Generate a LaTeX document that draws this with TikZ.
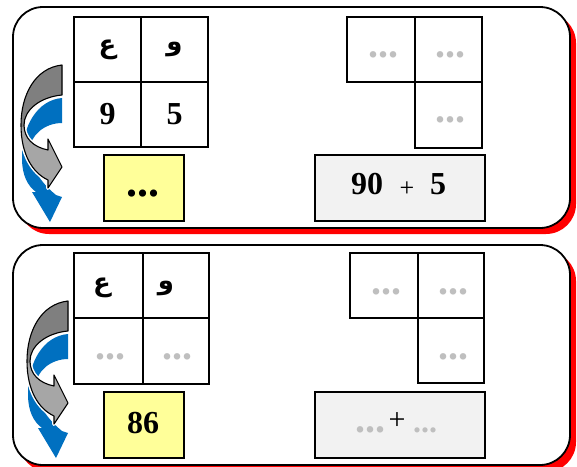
\documentclass[tikz,border=0pt]{standalone}
\usepackage{fontspec}
\setmainfont{Liberation Serif}
\newfontfamily\arabicfont[Script=Arabic]{DejaVu Sans}
\TeXXeTstate=1
\definecolor{panelred}{HTML}{FF0000}
\definecolor{boxyellow}{HTML}{FFFF99}
\definecolor{boxgray}{HTML}{F2F2F2}
\definecolor{dotgray}{HTML}{BFBFBF}
\definecolor{arrowblue}{HTML}{0070C0}
\definecolor{arrowdark}{HTML}{7F7F7F}
\definecolor{arrowlight}{HTML}{A6A6A6}
\tikzset{
  panel/.style={draw=black,line width=1.8pt,fill=white,rounded corners=30pt},
  shadowpanel/.style={fill=panelred,rounded corners=30pt},
  cell/.style={draw=black,line width=2pt,minimum width=67pt,minimum height=65pt,inner sep=0pt,anchor=north west},
  ansbox/.style={draw=black,line width=2pt,inner sep=0pt,anchor=north west},
  big/.style={font=\fontsize{32}{36}\selectfont\bfseries,inner sep=0pt},
  arab/.style={font=\fontsize{26}{30}\selectfont\arabicfont\bfseries,inner sep=0pt},
  dots/.style={font=\fontsize{40}{42}\selectfont\bfseries,text=dotgray,inner sep=0pt,anchor=base},
}
\newcommand{\twoarrows}[2]{%
\begin{scope}[shift={(#1,#2)}]
  \fill[arrowblue] (62,98) .. controls (38,100) and (22,125) .. (22,158)
     .. controls (22,176) and (28,186) .. (36,192) -- (32,192) -- (50,222) -- (62,197) -- (56,195)
     .. controls (40,182) and (30,166) .. (30,150)
     .. controls (30,135) and (45,123) .. (62,123) -- cycle;
  \draw[white,line width=4pt,line join=round] (62,65) .. controls (35,68) and (21,95) .. (21,125)
     .. controls (21,155) and (33,173) .. (48,180) -- (48,188) -- (62,167) -- (48,139) -- (48,150)
     .. controls (33,147) and (24,138) .. (24,125) .. controls (24,110) and (40,97) .. (62,95) -- cycle;
  \fill[arrowlight] (62,65) .. controls (35,68) and (21,95) .. (21,125)
     .. controls (21,155) and (33,173) .. (48,180) -- (48,188) -- (62,167) -- (48,139) -- (48,150)
     .. controls (33,147) and (24,138) .. (24,125) .. controls (24,110) and (40,97) .. (62,95) -- cycle;
  \begin{scope}
    \clip (0,50) rectangle (70,126);
    \fill[arrowdark] (62,65) .. controls (35,68) and (21,95) .. (21,125)
       .. controls (21,155) and (33,173) .. (48,180) -- (48,150)
       .. controls (33,147) and (24,138) .. (24,125) .. controls (24,110) and (40,97) .. (62,95) -- cycle;
  \end{scope}
  \draw[black,line width=1.1pt,line join=round] (62,65) .. controls (35,68) and (21,95) .. (21,125)
     .. controls (21,155) and (33,173) .. (48,180) -- (48,188) -- (62,167) -- (48,139) -- (48,150)
     .. controls (33,147) and (24,138) .. (24,125) .. controls (24,110) and (40,97) .. (62,95) -- cycle;
\end{scope}}
\begin{document}
\begin{tikzpicture}[x=1pt,y=-1pt]
\useasboundingbox (0,0) rectangle (577,466);
% ---------- panels ----------
\fill[shadowpanel] (19,13) rectangle (576,234);
\filldraw[panel] (13,7) rectangle (570,228);
\fill[shadowpanel] (19,251) rectangle (576,472);
\filldraw[panel] (13,245) rectangle (570,465);
% ---------- top panel ----------
\twoarrows{0}{0}
\node[cell] (t11) at (73,16) {};
\node[cell] (t12) at (140,16) {};
\node[cell] (t21) at (73,81) {};
\node[cell] (t22) at (140,81) {};
\node[arab] (tA) at (t11.center) {\beginR ع\endR};
\node[arab] (tB) at (t12.center) {\beginR و\endR};
\node[big] (tn9) at (t21.center) {9};
\node[big] (tn5) at (t22.center) {5};
\node[ansbox,fill=boxyellow,minimum width=80pt,minimum height=66pt] (ty) at (103,154) {};
\node[big,anchor=base,font=\fontsize{44}{46}\selectfont\bfseries] (tyd) at (143,196) {...};
\node[cell,minimum width=68pt] (r11) at (346,16) {};
\node[cell] (r12) at (414,16) {};
\node[cell,minimum height=66pt] (r22) at (414,81) {};
\node[dots] (r11d) at (383,57) {...};
\node[dots] (r12d) at (450,57) {...};
\node[dots] (r22d) at (450,122) {...};
\node[ansbox,fill=boxgray,minimum width=170pt,minimum height=66pt] (tg) at (314,154) {};
\node[big] (tg90) at (367,184) {90};
\node[inner sep=0pt,font=\fontsize{26}{28}\selectfont] (tgp) at (407,189) {+};
\node[big] (tg5) at (438,184) {5};
% ---------- bottom panel ----------
\twoarrows{6}{236}
\node[cell,minimum width=69pt] (b11) at (73,252) {};
\node[cell,minimum width=66pt] (b12) at (142,252) {};
\node[cell,minimum width=69pt,minimum height=66pt] (b21) at (73,317) {};
\node[cell,minimum width=66pt,minimum height=66pt] (b22) at (142,317) {};
\node[arab] (bA) at (102,288) {\beginR ع\endR};
\node[arab] (bB) at (166,288) {\beginR و\endR};
\node[dots] (b21d) at (110,359) {...};
\node[dots] (b22d) at (177,359) {...};
\node[ansbox,fill=boxyellow,minimum width=80pt,minimum height=66pt] (by) at (103,391) {};
\node[big] (b86) at (143,423) {86};
\node[cell,minimum width=68pt] (s11) at (349,252) {};
\node[cell,minimum width=66pt] (s12) at (417,252) {};
\node[cell,minimum width=66pt] (s22) at (417,317) {};
\node[dots] (s11d) at (386,294) {...};
\node[dots] (s12d) at (453,294) {...};
\node[dots] (s22d) at (453,359) {...};
\node[ansbox,fill=boxgray,minimum width=170pt,minimum height=66pt] (bg) at (314,391) {};
\node[dots] (bgl) at (370,432) {...};
\node[inner sep=0pt,font=\fontsize{30}{32}\selectfont] (bgp) at (397,421) {+};
\node[dots,font=\fontsize{32}{34}\selectfont\bfseries] (bgr) at (425,432) {...};
\end{tikzpicture}
\end{document}
